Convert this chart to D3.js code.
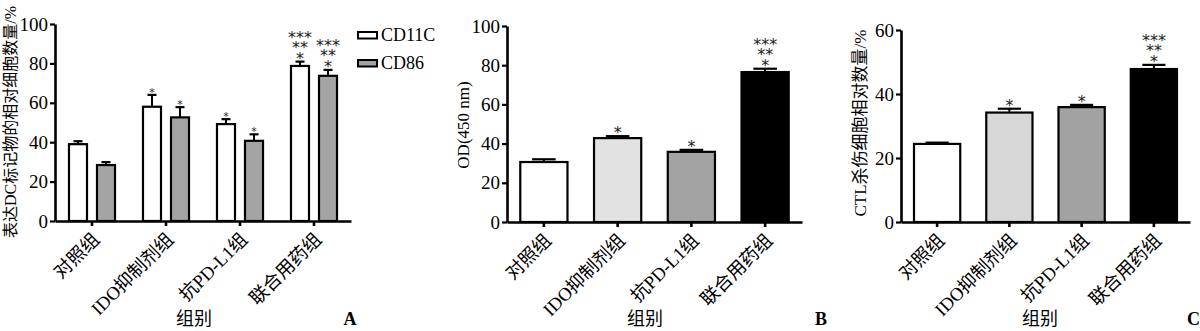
<!DOCTYPE html>
<html><head><meta charset="utf-8">
<script src="https://cdn.jsdelivr.net/npm/d3@7"></script>
<style>
body{margin:0;background:#fff}
svg{display:block;background:#fff}
text{font-family:"Liberation Serif","Noto Sans CJK SC",serif;fill:#000}
</style>
</head><body>
<svg id="chart" width="1200" height="331"></svg>
<script>
// ---------- data ----------
const categories = ["对照组", "IDO抑制剂组", "抗PD-L1组", "联合用药组"];
const seriesA = ["CD11C", "CD86"];
const cd11c = [39.0, 58.0, 49.2, 78.7];
const cd11cErr = [1.5, 6.0, 2.5, 2.2];
const cd86 = [28.4, 52.6, 40.7, 73.7];
const cd86Err = [1.5, 5.2, 3.3, 3.0];
const cd11cSig = [[], ["*"], ["*"], ["***", "**", "*"]];
const cd86Sig = [[], ["*"], ["*"], ["***", "**", "*"]];
const od = [30.6, 42.8, 35.8, 76.5];
const odErr = [1.4, 1.0, 1.0, 1.7];
const odSig = [[], ["*"], ["*"], ["***", "**", "*"]];
const ctl = [24.4, 34.2, 35.9, 47.8];
const ctlErr = [0.4, 1.2, 0.7, 1.3];
const ctlSig = [[], ["*"], ["*"], ["***", "**", "*"]];
const ticksA = [0, 20, 40, 60, 80, 100];
const ticksB = [0, 20, 40, 60, 80, 100];
const ticksC = [0, 20, 40, 60];
const titleA = "表达DC标记物的相对细胞数量/%";
const titleB = "OD(450 nm)";
const titleC = "CTL杀伤细胞相对数量/%";
const xTitle = "组别";
const panelLetters = ["A", "B", "C"];

// ---------- styles ----------
const colorsA = {"CD11C": "#ffffff", "CD86": "#a4a4a4"};
const colorsB = ["#ffffff", "#e2e2e2", "#a3a3a3", "#000000"];
const colorsC = ["#ffffff", "#d7d7d7", "#a2a2a2", "#000000"];

const svg = d3.select("#chart");

function drawAxes(g, x, y, ticks, axisY) {
  const ya = g.append("g").attr("transform", `translate(${x.range()[0]},0)`)
    .call(d3.axisLeft(y).tickValues(ticks).tickSize(5).tickPadding(2).tickSizeOuter(0));
  ya.attr("font-size", null).attr("font-family", null);
  ya.select(".domain").attr("stroke-width", 2.6);
  ya.selectAll(".tick line").attr("stroke-width", 2.2);
  ya.selectAll("text").style("font-size", "19px").style("font-family", "Liberation Serif");
  const xa = g.append("g").attr("transform", `translate(0,${axisY})`)
    .call(d3.axisBottom(x).tickSize(5).tickSizeOuter(0));
  xa.attr("font-size", null).attr("font-family", null);
  xa.select(".domain").attr("stroke-width", 2.6);
  xa.selectAll(".tick line").attr("stroke-width", 2.6);
  xa.selectAll("text")
    .style("font-size", "18.5px")
    .style("text-anchor", "end")
    .attr("x", 0).attr("y", 0).attr("dy", "0.35em")
    .attr("transform", "translate(4,15) rotate(-45)");
}

function drawErr(g, cx, w, yTop, yErr) {
  g.append("line").attr("x1", cx).attr("x2", cx).attr("y1", yTop).attr("y2", yErr)
    .attr("stroke", "#000").attr("stroke-width", 2);
  g.append("line").attr("x1", cx - w / 2).attr("x2", cx + w / 2).attr("y1", yErr).attr("y2", yErr)
    .attr("stroke", "#000").attr("stroke-width", 2.2);
}

function drawSig(g, cx, yErr, lines, size, gap, spacing) {
  if (!lines.length) return;
  const n = lines.length;
  const t = g.append("text").attr("text-anchor", "middle")
    .style("font-family", "DejaVu Sans").style("font-size", size + "px").style("fill", "#222");
  lines.forEach((s, i) => {
    t.append("tspan").attr("x", cx)
      .attr("y", yErr - gap - (n - 1 - i) * spacing + size * 0.62)
      .text(s);
  });
}

// ---------- Panel A ----------
(function () {
  const g = svg.append("g");
  const x = d3.scaleBand().domain(categories).range([55, 351]).paddingInner(0.378).paddingOuter(0.189);
  const xs = d3.scaleBand().domain(seriesA).range([0, x.bandwidth()]).paddingInner(0.357);
  const y = d3.scaleLinear().domain([0, 100]).range([221, 24]);
  const vals = {"CD11C": cd11c, "CD86": cd86};
  const errs = {"CD11C": cd11cErr, "CD86": cd86Err};
  const sigs = {"CD11C": cd11cSig, "CD86": cd86Sig};
  seriesA.forEach(s => {
    categories.forEach((c, i) => {
      const bx = x(c) + xs(s), bw = xs.bandwidth();
      g.append("rect").attr("x", bx).attr("y", y(vals[s][i])).attr("width", bw)
        .attr("height", y(0) - y(vals[s][i])).attr("fill", colorsA[s])
        .attr("stroke", "#000").attr("stroke-width", 2.2);
      const ye = y(vals[s][i] + errs[s][i]);
      drawErr(g, bx + bw / 2, bw / 2, y(vals[s][i]), ye);
      const big = sigs[s][i].length > 1;
      drawSig(g, bx + bw / 2, ye, sigs[s][i], big ? 16 : 11, big ? 8 : 6, 10.5);
    });
  });
  drawAxes(g, x, y, ticksA, y(0));
  // legend
  seriesA.forEach((s, i) => {
    g.append("rect").attr("x", 358).attr("y", 32 + i * 28).attr("width", 19).attr("height", 6.5)
      .attr("fill", colorsA[s]).attr("stroke", "#000").attr("stroke-width", 2);
    g.append("text").attr("x", 381).attr("y", 41 + i * 28).style("font-size", "18px").text(s);
  });
  g.append("text").attr("transform", "translate(16,122) rotate(-90)").attr("text-anchor", "middle")
    .style("font-size", "16px").text(titleA);
  g.append("text").attr("x", 194).attr("y", 325).attr("text-anchor", "middle").style("font-size", "18px").text(xTitle);
  g.append("text").attr("x", 350).attr("y", 325).attr("text-anchor", "middle").style("font-size", "18px")
    .style("font-weight", "bold").text(panelLetters[0]);
})();

function singlePanel(range, yRange, yMax, ticks, vals, errs, sigs, colors, title, titleX, titleY, titleSize, xtX, letterX, letterAnchor, letter) {
  const g = svg.append("g");
  const x = d3.scaleBand().domain(categories).range(range).paddingInner(0.36).paddingOuter(0.18);
  const y = d3.scaleLinear().domain([0, yMax]).range(yRange);
  categories.forEach((c, i) => {
    const bx = x(c), bw = x.bandwidth();
    g.append("rect").attr("x", bx).attr("y", y(vals[i])).attr("width", bw)
      .attr("height", y(0) - y(vals[i])).attr("fill", colors[i])
      .attr("stroke", "#000").attr("stroke-width", 2.2);
    const ye = y(vals[i] + errs[i]);
    drawErr(g, bx + bw / 2, bw / 2, y(vals[i]), ye);
    drawSig(g, bx + bw / 2, ye, sigs[i], 16, 8, 10.5);
  });
  drawAxes(g, x, y, ticks, y(0));
  g.append("text").attr("transform", `translate(${titleX},${titleY}) rotate(-90)`).attr("text-anchor", "middle")
    .style("font-size", titleSize + "px").text(title);
  g.append("text").attr("x", xtX).attr("y", 325).attr("text-anchor", "middle").style("font-size", "18px").text(xTitle);
  g.append("text").attr("x", letterX).attr("y", 325).attr("text-anchor", letterAnchor).style("font-size", "18px")
    .style("font-weight", "bold").text(letter);
}

singlePanel([507, 802], [222, 26], 100, ticksB, od, odErr, odSig, colorsB, titleB, 469, 125, 17, 645, 821, "middle", panelLetters[1]);
singlePanel([901, 1190], [222, 30], 60, ticksC, ctl, ctlErr, ctlSig, colorsC, titleC, 866, 123, 17, 1040, 1187, "start", panelLetters[2]);
</script>
</body></html>
